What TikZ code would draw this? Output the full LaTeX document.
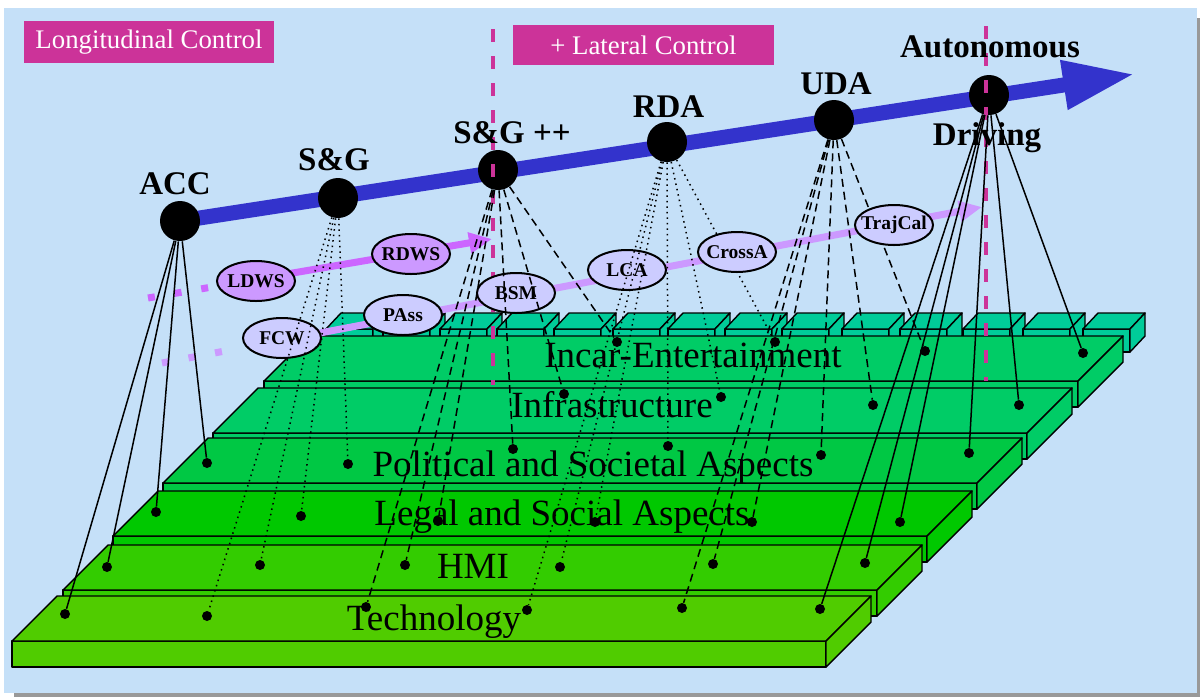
\documentclass[tikz,border=0pt]{standalone}
\usepackage{fontspec}
\setmainfont{Liberation Serif}
\usetikzlibrary{arrows.meta,positioning,shapes.geometric}
\definecolor{BackClr}{RGB}{197,224,248}
\definecolor{ShadowClr}{RGB}{153,153,153}
\definecolor{TagClr}{RGB}{204,51,153}
\definecolor{RoadClr}{RGB}{51,51,204}
\definecolor{WarnClr}{RGB}{204,153,255}
\definecolor{WarnLineClr}{RGB}{204,102,255}
\definecolor{AssistClr}{RGB}{204,204,255}
\definecolor{TechClr}{RGB}{80,204,0}
\definecolor{HmiClr}{RGB}{51,204,0}
\definecolor{LegalClr}{RGB}{0,200,0}
\definecolor{PolClr}{RGB}{0,200,68}
\definecolor{InfraClr}{RGB}{0,204,102}
\definecolor{IncarClr}{RGB}{0,204,102}
\definecolor{BlockClr}{RGB}{0,204,153}
\pgfdeclarelayer{bg}
\pgfdeclarelayer{road}
\pgfsetlayers{bg,road,main}

\tikzset{
  phasetag/.style={fill=TagClr,text=white,inner sep=0pt,font=\fontsize{13.4pt}{15pt}\selectfont},
  stage/.style={circle,fill=black,minimum size=20pt,inner sep=0pt},
  stagename/.style={inner sep=0pt,font=\fontsize{16.5pt}{18pt}\selectfont\bfseries},
  func/.style={ellipse,draw,line width=1pt,minimum width=39pt,minimum height=20pt,inner sep=0pt,font=\fontsize{9.75pt}{11pt}\selectfont\bfseries},
  warn/.style={func,fill=WarnClr},
  assist/.style={func,fill=AssistClr},
  spot/.style={circle,fill=black,minimum size=5pt,inner sep=0pt},
  slabtext/.style={anchor=base,inner sep=0pt,font=\fontsize{18.5pt}{20pt}\selectfont},
  slabface/.style={draw=black,line width=0.7pt,line join=round},
  solidlink/.style={line width=0.75pt},
  dottedlink/.style={line width=0.75pt,dotted},
  dashedlink/.style={line width=0.75pt,dash pattern=on 4pt off 2.5pt},
  roadmap/.style={RoadClr,line width=7.5pt,-{Triangle[length=36pt,width=23pt]}},
  lane/.style={line width=3.5pt,-{Triangle[length=11.5pt,width=10pt]}},
  laneend/.style={line width=3.5pt,dash pattern=on 3.5pt off 10pt},
  phase/.style={TagClr,line width=2pt,dash pattern=on 6.5pt off 7pt}
}

% one layer of the stack: front-left corner x, y and fill
\newcommand\layerslab[3]{%
  \filldraw[slabface,fill=#3] (#1,#2) -- ++(814,0) -- ++(0,26) -- ++(-814,0) -- cycle;
  \filldraw[slabface,fill=#3] (#1,#2) -- ++(45,-45) -- ++(814,0) -- ++(-45,45) -- cycle;
  \filldraw[slabface,fill=#3] (#1+814,#2) -- ++(45,-45) -- ++(0,26) -- ++(-45,45) -- cycle;}
\newcommand\topblock[1]{%
  \filldraw[slabface,fill=BlockClr] (#1,329) rectangle ++(47,23);
  \filldraw[slabface,fill=BlockClr] (#1,329) -- ++(15,-16) -- ++(47,0) -- ++(-15,16) -- cycle;
  \filldraw[slabface,fill=BlockClr] (#1+47,329) -- ++(15,-16) -- ++(0,23) -- ++(-15,16) -- cycle;}
\newcommand\fname[1]{\makebox[0pt]{#1}}

\begin{document}
\begin{tikzpicture}[x=0.5pt,y=-0.5pt]
\useasboundingbox (0,0) rectangle (1200,697);
\begin{pgfonlayer}{bg}
\fill[ShadowClr] (14,18) rectangle (1200,697);
\fill[BackClr] (4,8) rectangle (1197,693);
\end{pgfonlayer}

\node[phasetag,minimum width=125pt,minimum height=21pt] (longi) at (149,42) {Longitudinal Control};
\node[phasetag,minimum width=130.5pt,minimum height=20pt] (lateral) at (643.5,45) {+ Lateral Control};

\node[stage] (acc) at (180,221) {};
\node[stage] (sg) at (338,198) {};
\node[stage] (sgp) at (498,170) {};
\node[stage] (rda) at (667,142) {};
\node[stage] (uda) at (834,120) {};
\node[stage] (aut) at (989,95) {};
\coordinate (tip) at (1135,74);
\begin{pgfonlayer}{road}
\draw[roadmap] (acc.center) -- (tip);
\end{pgfonlayer}

\foreach \x in {326,383,440,497,554,613,668,725,782,842,900,963,1023,1083}
  \topblock{\x};
\layerslab{264}{381}{IncarClr}
\node[slabtext] (incar) at (693,367) {Incar-Entertainment};
\layerslab{213}{433}{InfraClr}
\node[slabtext] (infra) at (612,417) {Infrastructure};
\layerslab{163}{483}{PolClr}
\node[slabtext] (pol) at (593,476) {Political and Societal Aspects};
\layerslab{113}{536}{LegalClr}
\node[slabtext] (legal) at (562,525) {Legal and Social Aspects};
\layerslab{63}{590}{HmiClr}
\node[slabtext] (hmi) at (473,578) {HMI};
\layerslab{12}{641}{TechClr}
\node[slabtext] (tech) at (434,630) {Technology};

\foreach \x/\y [count=\i] in {65/614,107/567,156/512,207/463}
  \node[spot] (acc\i) at (\x,\y) {};
\foreach \x/\y [count=\i] in {207/616,260/565,301/516,348/464}
  \node[spot] (sg\i) at (\x,\y) {};
\foreach \x/\y [count=\i] in {366/607,405/565,438/521,513/449,564/394,617/342}
  \node[spot] (sgp\i) at (\x,\y) {};
\foreach \x/\y [count=\i] in {527/610,560/567,595/522,668/446,721/397,775/342}
  \node[spot] (rda\i) at (\x,\y) {};
\foreach \x/\y [count=\i] in {682/608,713/564,752/522,821/455,873/405,925/351}
  \node[spot] (uda\i) at (\x,\y) {};
\foreach \x/\y [count=\i] in {820/609,865/563,900/522,969/453,1019/405,1083/353}
  \node[spot] (aut\i) at (\x,\y) {};

\draw[phase] (493,29) -- (493,385);
\draw[phase] (986,26) -- (986,381);

\coordinate (w0) at (148,298);
\coordinate (w1) at (212,287);
\coordinate (w2) at (240,282);
\coordinate (wtip) at (492,239);
\draw[laneend,WarnLineClr] (w0) -- (w1);
\draw[lane,WarnLineClr] (w2) -- (wtip);
\coordinate (a0) at (162,363);
\coordinate (a1) at (238,348.5);
\coordinate (a2) at (270,342.5);
\coordinate (atip) at (982,207);
\draw[laneend,WarnClr] (a0) -- (a1);
\draw[lane,WarnClr] (a2) -- (atip);

\foreach \i in {1,...,6}
  \draw[dashedlink] (uda) -- (uda\i);
\draw[dottedlink] (rda) -- (rda6);

\node[warn] (ldws) at (256,281) {\fname{LDWS}};
\node[warn] (rdws) at (411,254) {\fname{RDWS}};
\node[assist] (fcw) at (282,338) {\fname{FCW}};
\node[assist] (pass) at (403,315) {\fname{PAss}};
\node[assist] (bsm) at (516,293) {\fname{BSM}};
\node[assist] (lca) at (627,270) {\fname{LCA}};
\node[assist] (crossa) at (737,252) {\fname{CrossA}};
\node[assist] (trajcal) at (894,225) {\fname{TrajCal}};

\foreach \i in {1,...,4} {
  \draw[solidlink] (acc) -- (acc\i);
  \draw[dottedlink] (sg) -- (sg\i);
}
\foreach \i in {1,...,6} {
  \draw[dashedlink] (sgp) -- (sgp\i);
  \draw[solidlink] (aut) -- (aut\i);
}
\foreach \i in {1,...,5}
  \draw[dottedlink] (rda) -- (rda\i);

\node[stagename,above=2.5pt of acc,xshift=-2.5pt] (accname) {ACC};
\node[stagename,above=3pt of sg,xshift=-2pt] (sgname) {S\&G};
\node[stagename,above=2.5pt of sgp,xshift=7pt] (sgpname) {S\&G ++};
\node[stagename,above=2pt of rda,xshift=0.75pt] (rdaname) {RDA};
\node[stagename,above=2pt of uda,xshift=1pt] (udaname) {UDA};
\node[stagename,above=8pt of aut,xshift=0.5pt] (autname) {Autonomous};
\node[stagename,below=3.5pt of aut,xshift=-1pt] (drvname) {Driving};
\end{tikzpicture}
\end{document}
